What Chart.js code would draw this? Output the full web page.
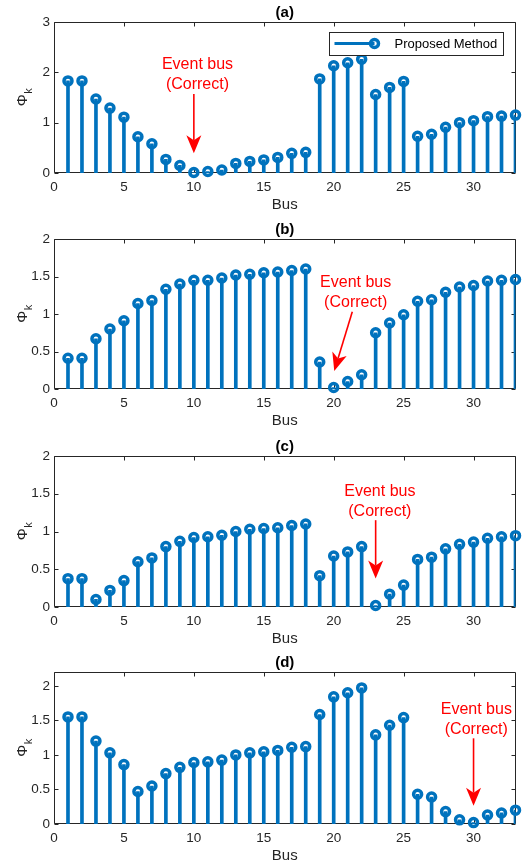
<!DOCTYPE html>
<html><head><meta charset="utf-8">
<script src="https://cdn.jsdelivr.net/npm/chart.js@4.4.0/dist/chart.umd.min.js"></script>
<style>
html,body{margin:0;padding:0;background:#fff;width:523px;height:867px;overflow:hidden;position:relative;}
.p{position:absolute;left:0;width:523px;}
canvas{display:block;}
</style></head><body>
<script>
// ---------------- data ----------------
const buses = [1,2,3,4,5,6,7,8,9,10,11,12,13,14,15,16,17,18,19,20,21,22,23,24,25,26,27,28,29,30,31,32,33];
const xTicks = [0,5,10,15,20,25,30];
const yTicksA = [0,1,2,3];
const yTicksB = [0,0.5,1,1.5,2];
const yTicksC = [0,0.5,1,1.5,2];
const yTicksD = [0,0.5,1,1.5,2];
const phiA = [1.83,1.83,1.47,1.29,1.11,0.72,0.58,0.27,0.15,0.01,0.03,0.06,0.19,0.23,0.26,0.31,0.39,0.41,1.87,2.13,2.19,2.26,1.56,1.70,1.82,0.73,0.77,0.91,1.00,1.04,1.12,1.13,1.15];
const phiB = [0.41,0.41,0.67,0.80,0.91,1.14,1.18,1.33,1.40,1.45,1.45,1.48,1.52,1.53,1.55,1.56,1.58,1.60,0.36,0.02,0.10,0.19,0.75,0.88,0.99,1.17,1.19,1.29,1.36,1.38,1.44,1.45,1.46];
const phiC = [0.375,0.375,0.10,0.22,0.35,0.60,0.65,0.80,0.87,0.92,0.93,0.95,1.00,1.03,1.04,1.05,1.08,1.10,0.415,0.675,0.73,0.80,0.02,0.17,0.29,0.63,0.66,0.77,0.83,0.86,0.91,0.93,0.945];
const phiD = [1.55,1.55,1.20,1.03,0.86,0.47,0.55,0.73,0.82,0.89,0.90,0.925,1.00,1.03,1.045,1.065,1.11,1.12,1.585,1.84,1.90,1.97,1.29,1.43,1.54,0.43,0.39,0.18,0.06,0.02,0.13,0.16,0.20];
const panelTitles = ['(a)','(b)','(c)','(d)'];
const xLabel = 'Bus';
const yLabelMain = 'Φ';
const yLabelSub = 'k';
const seriesLabel = 'Proposed Method';
const noteLines = ['Event bus','(Correct)'];

// ---------------- layout / style ----------------
const FONT = '"Liberation Sans", Arial, Helvetica, sans-serif';
const BLUE = '#0072BD';
const AX = '#262626';
const panels = [
  {top:0,   plotH:151, title:panelTitles[0], values:phiA, yMax:3,   yTicks:yTicksA, legend:true,
   note:{tx:10.26, ty:[2.16,1.75], from:[10,1.57], to:[10,0.39]}},
  {top:217, plotH:150, title:panelTitles[1], values:phiB, yMax:2,   yTicks:yTicksB, legend:false,
   note:{tx:21.57, ty:[1.42,1.157], from:[21.33,1.03], to:[20.04,0.24]}},
  {top:434, plotH:151, title:panelTitles[2], values:phiC, yMax:2,   yTicks:yTicksC, legend:false,
   note:{tx:23.3, ty:[1.53,1.27], from:[23,1.15], to:[23,0.376]}},
  {top:650, plotH:152, title:panelTitles[3], values:phiD, yMax:2.2, yTicks:yTicksD, legend:false,
   note:{tx:30.2, ty:[1.66,1.36], from:[30,1.24], to:[30,0.265]}}
];
const PAD_TOP = 22, X_AXIS_H = 45, Y_AXIS_W = 54;

function drawArrow(ctx, x0, y0, x1, y1) {
  const dx = x1 - x0, dy = y1 - y0, len = Math.hypot(dx, dy);
  const ux = dx / len, uy = dy / len, nx = -uy, ny = ux;
  const hl = 18, hw = 7.5, notch = 5;
  const bx = x1 - ux * hl, by = y1 - uy * hl;
  const mx = x1 - ux * (hl - notch), my = y1 - uy * (hl - notch);
  ctx.beginPath(); ctx.moveTo(x0, y0); ctx.lineTo(mx, my); ctx.stroke();
  ctx.beginPath(); ctx.moveTo(x1, y1);
  ctx.lineTo(bx + nx * hw, by + ny * hw); ctx.lineTo(mx, my);
  ctx.lineTo(bx - nx * hw, by - ny * hw); ctx.closePath(); ctx.fill();
}

function decor(p) {
  return {
    id: 'decor',
    beforeDatasetsDraw(chart) {
      const {ctx, chartArea: a, scales: {x, y}} = chart;
      ctx.save();
      ctx.strokeStyle = AX; ctx.lineWidth = 1;
      const L = Math.round(a.left) + 0.5, R = Math.round(a.right) - 0.5;
      const T = Math.round(a.top) + 0.5, B = Math.round(a.bottom) - 0.5;
      ctx.beginPath();
      ctx.rect(L, T, R - L, B - T);
      const tl = 4;
      xTicks.forEach(v => {
        const px = Math.round(x.getPixelForValue(v)) + 0.5;
        ctx.moveTo(px, B); ctx.lineTo(px, B - tl);
        ctx.moveTo(px, T); ctx.lineTo(px, T + tl);
      });
      p.yTicks.forEach(v => {
        const py = Math.round(y.getPixelForValue(v)) + 0.5;
        ctx.moveTo(L, py); ctx.lineTo(L + tl, py);
        ctx.moveTo(R, py); ctx.lineTo(R - tl, py);
      });
      ctx.stroke();
      const cx = (a.left + a.right) / 2;
      ctx.fillStyle = '#000';
      ctx.textAlign = 'center'; ctx.textBaseline = 'middle';
      ctx.font = 'bold 15px ' + FONT;
      ctx.fillText(p.title, cx, a.top - 9);
      ctx.fillStyle = AX;
      ctx.font = '15px ' + FONT;
      ctx.fillText(xLabel, cx, a.bottom + 32);
      // y label with subscript
      const cy = (a.top + a.bottom) / 2;
      ctx.translate(27, cy);
      ctx.rotate(-Math.PI / 2);
      ctx.textBaseline = 'alphabetic'; ctx.textAlign = 'left';
      ctx.font = '15px ' + FONT;
      const w1 = ctx.measureText(yLabelMain).width;
      ctx.font = '11px ' + FONT;
      const w2 = ctx.measureText(yLabelSub).width;
      const start = -(w1 + w2) / 2;
      ctx.font = '15px ' + FONT;
      ctx.fillText(yLabelMain, start, 0);
      ctx.font = '11px ' + FONT;
      ctx.fillText(yLabelSub, start + w1 + 0.5, 5);
      ctx.restore();
    },
    afterDatasetsDraw(chart) {
      const {ctx, chartArea: a, scales: {x, y}} = chart;
      ctx.save();
      const n = p.note;
      ctx.fillStyle = '#FF0000'; ctx.strokeStyle = '#FF0000';
      ctx.font = '16px ' + FONT; ctx.textAlign = 'center'; ctx.textBaseline = 'middle';
      noteLines.forEach((t, i) => ctx.fillText(t, x.getPixelForValue(n.tx), y.getPixelForValue(n.ty[i])));
      ctx.lineWidth = 1.6;
      drawArrow(ctx, x.getPixelForValue(n.from[0]), y.getPixelForValue(n.from[1]),
                     x.getPixelForValue(n.to[0]), y.getPixelForValue(n.to[1]));
      if (p.legend) {
        const bx = a.right - 187, by = a.top + 10, bw = 174, bh = 23;
        ctx.fillStyle = '#fff'; ctx.fillRect(bx, by, bw, bh);
        ctx.strokeStyle = AX; ctx.lineWidth = 1;
        ctx.strokeRect(Math.round(bx) + 0.5, Math.round(by) + 0.5, bw, bh);
        const ly = by + bh / 2;
        ctx.strokeStyle = BLUE; ctx.lineWidth = 3;
        ctx.beginPath(); ctx.moveTo(bx + 6, ly); ctx.lineTo(bx + 46, ly); ctx.stroke();
        ctx.lineWidth = 3.5;
        ctx.beginPath(); ctx.arc(bx + 46, ly, 4, 0, Math.PI * 2); ctx.stroke();
        ctx.fillStyle = '#000'; ctx.font = '13px ' + FONT;
        ctx.textAlign = 'left'; ctx.textBaseline = 'middle';
        ctx.fillText(seriesLabel, bx + 66, ly + 0.5);
      }
      ctx.restore();
    }
  };
}

panels.forEach((p, i) => {
  const div = document.createElement('div');
  div.className = 'p';
  const H = PAD_TOP + p.plotH + X_AXIS_H;
  div.style.top = p.top + 'px'; div.style.height = H + 'px';
  const cv = document.createElement('canvas');
  cv.width = 523; cv.height = H;
  div.appendChild(cv); document.body.appendChild(div);
  const pts = buses.map((b, k) => ({x: b, y: p.values[k]}));
  new Chart(cv, {
    type: 'bar',
    data: {
      datasets: [
        {type: 'line', label: seriesLabel, data: pts, showLine: false, order: 0, clip: false,
         pointRadius: 4, pointHoverRadius: 4, pointBorderWidth: 3.5,
         pointBackgroundColor: 'rgba(0,0,0,0)', pointBorderColor: BLUE},
        {type: 'bar', label: seriesLabel, data: pts, order: 1, barThickness: 3,
         backgroundColor: BLUE, borderWidth: 0}
      ]
    },
    options: {
      responsive: false, animation: false, devicePixelRatio: 1,
      layout: {padding: {top: PAD_TOP, right: 4, left: 0, bottom: 0}},
      plugins: {legend: {display: false}, tooltip: {enabled: false}, title: {display: false}},
      events: [],
      scales: {
        x: {type: 'linear', min: 0, max: 33, offset: false,
            grid: {display: false, drawTicks: false}, border: {display: false},
            afterBuildTicks: s => { s.ticks = xTicks.map(v => ({value: v})); },
            afterFit: s => { s.height = X_AXIS_H; },
            ticks: {padding: 6, color: AX, font: {family: FONT, size: 13.5}, maxRotation: 0, autoSkip: false,
                    callback: v => String(v)}},
        y: {type: 'linear', min: 0, max: p.yMax,
            grid: {display: false, drawTicks: false}, border: {display: false},
            afterBuildTicks: s => { s.ticks = p.yTicks.map(v => ({value: v})); },
            afterFit: s => { s.width = Y_AXIS_W; },
            ticks: {padding: 4, color: AX, font: {family: FONT, size: 13.5}, autoSkip: false,
                    callback: v => String(v)}}
      }
    },
    plugins: [decor(p)]
  });
});
</script>
</body></html>
